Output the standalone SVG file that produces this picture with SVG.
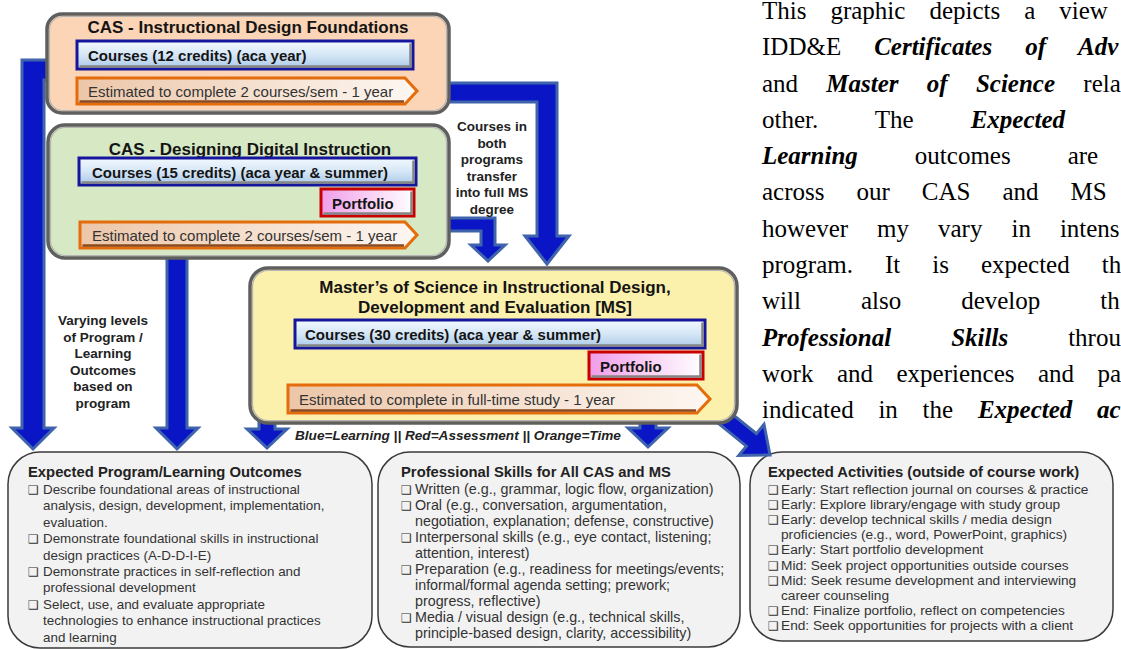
<svg xmlns="http://www.w3.org/2000/svg" width="1121" height="649" viewBox="0 0 1121 649">
  <style>
    .ptitle{font-family:"Liberation Sans",Arial,sans-serif;font-weight:bold;font-size:17px;fill:#141414;text-anchor:middle}
    .tbar{font-family:"Liberation Sans",Arial,sans-serif;font-weight:bold;font-size:15px;fill:#141414}
    .ttime{font-family:"Liberation Sans",Arial,sans-serif;font-size:15px;fill:#333}
    .note{font-family:"Liberation Sans",Arial,sans-serif;font-weight:bold;font-size:13.5px;fill:#222;text-anchor:middle}
    .legend{font-family:"Liberation Sans",Arial,sans-serif;font-weight:bold;font-style:italic;font-size:13.6px;fill:#222}
    .btitle{font-family:"Liberation Sans",Arial,sans-serif;font-weight:bold;font-size:14.8px;fill:#222}
    .bbody{font-family:"Liberation Sans",Arial,sans-serif;fill:#333}
    .b1{font-size:13.4px}
    .b2{font-size:14.3px}
    .b3{font-size:13.7px}
    .chk{font-family:"DejaVu Sans",sans-serif;font-size:12px}
    .para{font-family:"Liberation Serif","Times New Roman",serif;font-size:25px;fill:#000}
    .em{font-weight:bold;font-style:italic}
    .panel{stroke:#5f5f5f;stroke-width:3.5}
    .panel-hi{fill:none;stroke:#b4b4b4;stroke-width:1.2}
    .card{fill:#f2f2f2;stroke:#3a3a3a;stroke-width:1.5}
    .cbar{fill:url(#gBlue);stroke:#16169c;stroke-width:3}
    .pbar{fill:url(#gPink);stroke:#c80000;stroke-width:3}
    .tbarshape{fill:url(#gTime);stroke:#e46c0a;stroke-width:3;stroke-linejoin:miter}
    .bev{fill:none;stroke:#858585;stroke-width:2.5}
    .bev-t{fill:none;stroke:#8a4a20;stroke-width:2.5}
    .arr{fill:#0a16c6;stroke:#3f64ac;stroke-width:3;stroke-linejoin:miter}
  </style>
  <defs>
    <linearGradient id="gBlue" x1="0" y1="0" x2="0" y2="1">
      <stop offset="0" stop-color="#f3f9fe"/>
      <stop offset="0.5" stop-color="#d5e6f6"/>
      <stop offset="1" stop-color="#a9c8e7"/>
    </linearGradient>
    <linearGradient id="gTime" x1="0" y1="0" x2="1" y2="0">
      <stop offset="0" stop-color="#ecc6a8"/>
      <stop offset="1" stop-color="#fdf7f2"/>
    </linearGradient>
    <linearGradient id="gPink" x1="0" y1="0" x2="1" y2="0">
      <stop offset="0" stop-color="#f09de9"/>
      <stop offset="1" stop-color="#ffffff"/>
    </linearGradient>
  </defs>

  <rect width="1121" height="649" fill="#ffffff"/>

  <!-- outcome cards -->
  <g id="outcomes">
    <rect class="card" x="8" y="452" width="364" height="196" rx="32"/>
    <text class="btitle" x="28" y="477">Expected Program/Learning Outcomes</text>
    <g class="bbody b1">
      <text x="28" y="494"><tspan class="chk">❑</tspan><tspan x="43">Describe foundational areas of instructional</tspan></text>
      <text x="43" y="510.4">analysis, design, development, implementation,</text>
      <text x="43" y="526.8">evaluation.</text>
      <text x="28" y="543.2"><tspan class="chk">❑</tspan><tspan x="43">Demonstrate foundational skills in instructional</tspan></text>
      <text x="43" y="559.6">design practices (A-D-D-I-E)</text>
      <text x="28" y="576"><tspan class="chk">❑</tspan><tspan x="43">Demonstrate practices in self-reflection and</tspan></text>
      <text x="43" y="592.4">professional development</text>
      <text x="28" y="608.8"><tspan class="chk">❑</tspan><tspan x="43">Select, use, and evaluate appropriate</tspan></text>
      <text x="43" y="625.2">technologies to enhance instructional practices</text>
      <text x="43" y="641.6">and learning</text>
    </g>
  </g>

  <g id="skills">
    <rect class="card" x="378" y="452" width="362" height="195" rx="32"/>
    <text class="btitle" x="401" y="477">Professional Skills for All CAS and MS</text>
    <g class="bbody b2">
      <text x="401" y="493.5"><tspan class="chk">❑</tspan><tspan x="415">Written (e.g., grammar, logic flow, organization)</tspan></text>
      <text x="401" y="509.5"><tspan class="chk">❑</tspan><tspan x="415">Oral (e.g., conversation, argumentation,</tspan></text>
      <text x="415" y="525.5">negotiation, explanation; defense, constructive)</text>
      <text x="401" y="541.5"><tspan class="chk">❑</tspan><tspan x="415">Interpersonal skills (e.g., eye contact, listening;</tspan></text>
      <text x="415" y="557.5">attention, interest)</text>
      <text x="401" y="573.5"><tspan class="chk">❑</tspan><tspan x="415">Preparation (e.g., readiness for meetings/events;</tspan></text>
      <text x="415" y="589.5">informal/formal agenda setting; prework;</text>
      <text x="415" y="605.5">progress, reflective)</text>
      <text x="401" y="621.5"><tspan class="chk">❑</tspan><tspan x="415">Media / visual design (e.g., technical skills,</tspan></text>
      <text x="415" y="637.5">principle-based design, clarity, accessibility)</text>
    </g>
  </g>

  <g id="activities">
    <rect class="card" x="750" y="452" width="363" height="189" rx="32"/>
    <text class="btitle" x="768" y="477">Expected Activities (outside of course work)</text>
    <g class="bbody b3">
      <text x="768" y="494"><tspan class="chk">❑</tspan><tspan x="781">Early: Start reflection journal on courses &amp; practice</tspan></text>
      <text x="768" y="509.1"><tspan class="chk">❑</tspan><tspan x="781">Early: Explore library/engage with study group</tspan></text>
      <text x="768" y="524.2"><tspan class="chk">❑</tspan><tspan x="781">Early: develop technical skills / media design</tspan></text>
      <text x="781" y="539.3">proficiencies (e.g., word, PowerPoint, graphics)</text>
      <text x="768" y="554.4"><tspan class="chk">❑</tspan><tspan x="781">Early: Start portfolio development</tspan></text>
      <text x="768" y="569.5"><tspan class="chk">❑</tspan><tspan x="781">Mid: Seek project opportunities outside courses</tspan></text>
      <text x="768" y="584.6"><tspan class="chk">❑</tspan><tspan x="781">Mid: Seek resume development and interviewing</tspan></text>
      <text x="781" y="599.7">career counseling</text>
      <text x="768" y="614.8"><tspan class="chk">❑</tspan><tspan x="781">End: Finalize portfolio, reflect on competencies</tspan></text>
      <text x="768" y="629.9"><tspan class="chk">❑</tspan><tspan x="781">End: Seek opportunities for projects with a client</tspan></text>
    </g>
  </g>

  <!-- flow arrows -->
  <g id="connectors">
    <polygon class="arr" points="60,60 22,60 22,428 12,428 33,449 54,428 44,428 44,80 60,80"/>
    <polygon class="arr" points="167,250 187,250 187,428 198,428 177,449 156,428 167,428"/>
    <polygon class="arr" points="440,83 557,83 557,236 569,236 547,264 525,236 537,236 537,102 440,102"/>
    <polygon class="arr" points="440,218 495,218 495,245 505,245 488,261 471,245 481,245 481,231 440,231"/>
    <polygon class="arr" points="259,415 275,415 275,429 287,429 267,448 247,429 259,429"/>
    <polygon class="arr" points="640,415 656,415 656,428 668,428 648,447 628,428 640,428"/>
    <polygon class="arr" points="707,414.2 746.4,446.1 738.8,455.4 770,455 764,424.4 756.4,433.7 717,401.8"/>
  </g>

  <!-- certificate: instructional design foundations -->
  <g id="cas-idf">
    <rect class="panel" x="47" y="14" width="402" height="99" rx="15" fill="#fbd5b6"/>
    <rect class="panel-hi" x="49.5" y="16.5" width="397" height="94" rx="13"/>
    <text class="ptitle" x="248" y="33">CAS - Instructional Design Foundations</text>
    <rect class="cbar" x="77" y="41" width="336" height="28"/>
    <path class="bev" d="M79.5,66.5 H410.5 V43.5"/>
    <text class="tbar" x="88" y="61">Courses (12 credits) (aca year)</text>
    <path class="tbarshape" d="M77,78 H405 L417,91 L405,104 H77 Z"/>
    <path class="bev-t" d="M79.5,101.5 H404"/>
    <text class="ttime" x="88" y="97">Estimated to complete 2 courses/sem - 1 year</text>
  </g>

  <!-- certificate: designing digital instruction -->
  <g id="cas-ddi">
    <rect class="panel" x="48" y="125" width="401" height="133" rx="17" fill="#d6e8c4"/>
    <rect class="panel-hi" x="50.5" y="127.5" width="396" height="128" rx="15"/>
    <text class="ptitle" x="250" y="155">CAS - Designing Digital Instruction</text>
    <rect class="cbar" x="79" y="158" width="337" height="27"/>
    <path class="bev" d="M81.5,182.5 H413.5 V160.5"/>
    <text class="tbar" x="92" y="177.5">Courses (15 credits) (aca year &amp; summer)</text>
    <rect class="pbar" x="321" y="189" width="93" height="27"/>
    <path class="bev" d="M323.5,213.5 H411.5 V191.5"/>
    <text class="tbar" x="332" y="208.5">Portfolio</text>
    <path class="tbarshape" d="M80,222 H405 L417,235 L405,248 H80 Z"/>
    <path class="bev-t" d="M82.5,245.5 H404"/>
    <text class="ttime" x="92" y="241">Estimated to complete 2 courses/sem - 1 year</text>
  </g>

  <!-- master's degree -->
  <g id="ms">
    <rect class="panel" x="250" y="268" width="487" height="155" rx="18" fill="#fcf0ad"/>
    <rect class="panel-hi" x="252.5" y="270.5" width="482" height="150" rx="16"/>
    <text class="ptitle" x="495" y="293">Master’s of Science in Instructional Design,</text>
    <text class="ptitle" x="495" y="313">Development and Evaluation [MS]</text>
    <rect class="cbar" x="295" y="320" width="410" height="28"/>
    <path class="bev" d="M297.5,345.5 H702.5 V322.5"/>
    <text class="tbar" x="305" y="340">Courses (30 credits) (aca year &amp; summer)</text>
    <rect class="pbar" x="589" y="352" width="114" height="27"/>
    <path class="bev" d="M591.5,376.5 H700.5 V354.5"/>
    <text class="tbar" x="600" y="371.5">Portfolio</text>
    <path class="tbarshape" d="M288,385 H697 L710,399 L697,413 H288 Z"/>
    <path class="bev-t" d="M290.5,410.5 H696"/>
    <text class="ttime" x="299" y="405">Estimated to complete in full-time study - 1 year</text>
  </g>

  <g id="legend">
    <text class="legend" x="295" y="440">Blue=Learning || Red=Assessment || Orange=Time</text>
  </g>

  <g id="note-transfer">
    <text class="note" x="492" y="131">Courses in</text>
    <text class="note" x="492" y="147.5">both</text>
    <text class="note" x="492" y="164">programs</text>
    <text class="note" x="492" y="180.5">transfer</text>
    <text class="note" x="492" y="197">into full MS</text>
    <text class="note" x="492" y="213.5">degree</text>
  </g>

  <g id="note-varying">
    <text class="note" x="103" y="325">Varying levels</text>
    <text class="note" x="103" y="341.5">of Program /</text>
    <text class="note" x="103" y="358">Learning</text>
    <text class="note" x="103" y="374.5">Outcomes</text>
    <text class="note" x="103" y="391">based on</text>
    <text class="note" x="103" y="407.5">program</text>
  </g>

  <!-- justified description column, running past the right edge -->
  <g id="description" class="para">
    <text x="762" y="19" word-spacing="17.75">This graphic depicts a view</text>
    <text x="762" y="55.2" word-spacing="26.75">IDD&amp;E <tspan class="em">Certificates of Adv</tspan></text>
    <text x="762" y="91.5" word-spacing="22">and <tspan class="em">Master of Science</tspan> rela</text>
    <text x="762" y="127.8" word-spacing="50.75">other. The <tspan class="em">Expected</tspan></text>
    <text x="762" y="164.1" word-spacing="50.75"><tspan class="em">Learning</tspan> outcomes are</text>
    <text x="762" y="200.4" word-spacing="25.75">across our CAS and MS</text>
    <text x="762" y="236.7" word-spacing="22.75">however my vary in intens</text>
    <text x="762" y="273" word-spacing="25.75">program. It is expected th</text>
    <text x="762" y="309.3" word-spacing="53.75">will also develop th</text>
    <text x="762" y="345.6" word-spacing="53.75"><tspan class="em">Professional Skills</tspan> throu</text>
    <text x="762" y="381.9" word-spacing="17.25">work and experiences and pa</text>
    <text x="762" y="418.2" word-spacing="18.5">indicated in the <tspan class="em">Expected ac</tspan></text>
  </g>
</svg>
